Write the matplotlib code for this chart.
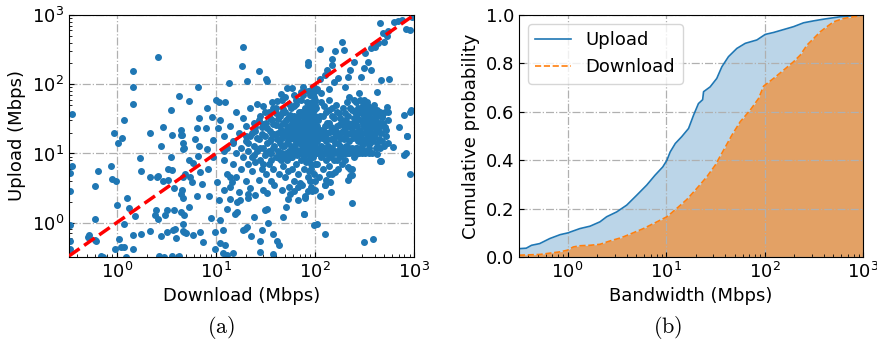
import matplotlib
matplotlib.use('Agg')
import numpy as np
import matplotlib.pyplot as plt

plt.rcParams['font.size'] = 13
plt.rcParams['mathtext.fontset'] = 'cm'

sparse_pts = [
    (0.35, 37), (0.35, 6.6), (0.34, 5.3), (0.34, 2.85), (0.34, 0.91), (0.34, 0.55), (0.34, 0.42),
    (0.94, 20), (1.03, 14.2), (1.14, 16.8), (1.19, 30), (1.45, 155), (1.47, 90), (1.45, 52),
    (2.6, 245), (4.2, 67), (6.6, 90), (5.3, 58), (3.5, 42), (6.8, 33), (8.1, 45), (10, 60),
    (10.8, 55), (12.4, 56), (13.7, 105), (18.7, 350), (18.3, 183), (20.8, 111), (27, 158),
    (32, 118), (32.5, 112),
    (0.64, 5.6), (0.6, 3.35), (0.6, 1.14), (0.52, 0.66), (0.52, 0.61), (0.6, 0.57), (0.88, 6.6),
    (0.9, 4.3), (0.98, 4.0), (1.0, 1.8), (1.26, 2.3), (1.32, 1.65), (1.54, 1.25), (1.19, 0.97),
    (1.72, 8.6), (1.75, 5.6), (2.17, 20), (2.17, 4.6), (2.5, 1.5), (2.6, 4.7), (2.55, 4.5),
    (2.8, 13), (2.9, 4.0), (2.95, 24), (3.1, 1.28), (3.2, 1.5), (3.3, 4.1), (3.3, 6.0),
    (3.5, 8.9), (3.6, 5.7), (3.6, 18.3), (3.8, 1.5), (3.8, 3.2), (4.5, 22), (4.5, 18.5),
    (4.6, 18.3), (4.7, 14.2), (4.8, 11.9), (4.6, 2.95), (4.7, 11.5), (4.7, 2.3), (4.8, 1.28),
    (4.5, 2.6), (4.7, 4.6), (4.9, 5.1), (4.5, 1.43), (5.3, 8.0), (5.4, 1.7), (5.5, 4.6),
    (5.7, 3.9), (5.95, 7.2), (6.2, 16.4), (6.4, 23.5), (6.4, 2.4), (6.6, 9.2), (6.7, 13),
    (7.0, 5.4), (7.3, 3.65), (8.0, 23.5), (8.2, 11.7), (8.4, 5.9), (8.6, 2.4), (8.9, 1.18),
    (9.1, 34), (9.4, 15.8), (9.4, 8.8), (2.45, 1.28), (2.6, 1.13),
]

low_pts = [
    (0.51, 0.63), (0.62, 0.54), (1.05, 0.59), (1.1, 0.44), (1.19, 0.44), (0.95, 0.41),
    (1.45, 0.67), (1.45, 0.41), (1.76, 0.69), (2.17, 0.77), (2.8, 0.65), (3.2, 0.73),
    (3.7, 0.79), (4.7, 0.77), (4.8, 0.73), (4.7, 0.95), (0.73, 0.32), (1.24, 0.32), (3.0, 0.32),
    (3.6, 0.33), (3.9, 0.8), (4.0, 0.6), (5.0, 0.72), (5.9, 0.66), (7.0, 0.73), (7.5, 0.52),
    (9.8, 0.73), (9.8, 0.42), (10.2, 3.85), (10.5, 23.5), (10.8, 2.1), (11, 1.08), (11, 0.5),
    (11.7, 0.79), (11.7, 0.36), (12, 2.95), (12.5, 0.48), (13, 1.6), (13.9, 2.2), (13.9, 4.6),
    (14.4, 3.9), (15, 0.36), (15.6, 1.35), (16.5, 1.43), (16.5, 2.0), (17.6, 2.1), (19, 0.79),
    (19.6, 0.82), (20.4, 0.86), (21, 2.3), (22.8, 0.65), (24, 1.2), (21, 2.6), (28, 0.55),
    (28, 0.38), (29, 0.79), (31.5, 1.5), (32.5, 1.6), (33.8, 1.0), (38, 0.69), (41, 0.55),
    (43, 0.48), (48, 1.2), (51, 1.7), (53, 2.2), (55, 3.3), (61, 2.9), (68, 2.1), (77, 1.35),
    (80, 2.4), (86, 2.9), (92, 3.3), (97, 0.92), (105, 0.95), (113, 2.4), (127, 0.69),
    (142, 3.9), (160, 5.4), (167, 8.0), (180, 11.5), (195, 11), (218, 6.4), (225, 4.8),
    (236, 1.9), (218, 4.1), (315, 0.52), (383, 0.59), (455, 7.8), (610, 12.4), (2.7, 0.33),
    (4.2, 0.33), (13, 0.34), (38, 0.35), (0.7, 0.33),
    (900, 5.0), (820, 10), (840, 17.7), (900, 40), (790, 36), (930, 42), (700, 24), (455, 12),
    (450, 15.6), (420, 42), (405, 38), (460, 115), (420, 78), (565, 121), (470, 34), (530, 47),
    (850, 17.8), (790, 9.4), (460, 7.7), (145, 2.8), (78, 1.35), (80, 2.25), (90, 2.95),
    (94, 2.9), (125, 3.5), (130, 4.1), (140, 5.1), (70, 3.7), (67, 3.3), (235, 6.0), (235, 4.9),
]

diag_pts = [
    (960, 950), (760, 860), (690, 830), (630, 800), (920, 610), (820, 620), (550, 590),
    (530, 490), (490, 545), (450, 770), (500, 410), (430, 390), (400, 350), (365, 330),
    (320, 280), (340, 210), (365, 160), (310, 170), (290, 128), (250, 210), (225, 162),
    (218, 128), (195, 310), (187, 410), (160, 300), (150, 235), (148, 190), (132, 160),
    (125, 135), (112, 120), (113, 320), (86, 210), (85, 190), (75, 90), (97, 90), (105, 84),
    (115, 75), (137, 85), (155, 108), (172, 125), (200, 90), (220, 66), (245, 60), (280, 75),
    (315, 60), (340, 48), (300, 38), (52, 87), (58, 87), (61, 70), (72, 78), (45, 72), (50, 65),
    (41, 58), (38, 45), (20, 18), (25, 24), (30, 27), (35, 33), (40, 38), (48, 44), (55, 52),
    (65, 60), (75, 70), (85, 80), (95, 92), (15, 14), (12, 11),
]

core_pts = [
    (11, 30), (12, 18), (12, 8), (13, 12), (13, 5), (14, 25), (14, 3.3), (15, 15), (15, 7),
    (16, 40), (16, 10), (16, 4.5), (17, 20), (17, 2.8), (18, 12), (18, 6), (19, 33), (19, 9),
    (20, 15), (20, 4), (20, 25), (21, 7), (21, 11), (22, 45), (22, 3.2), (22, 18), (23, 9),
    (23, 5.5), (24, 28), (24, 13), (25, 2.5), (25, 7.5), (25, 21), (26, 52), (26, 11), (27, 4.2),
    (27, 16), (28, 35), (28, 8), (29, 6), (29, 24), (30, 12), (30, 3), (30, 48), (31, 18),
    (31, 9.5), (32, 5), (32, 28), (33, 14), (33, 2.7), (34, 40), (34, 7), (35, 21), (35, 10),
    (36, 4), (36, 16), (37, 55), (37, 30), (38, 12), (38, 6), (39, 19), (39, 3.5), (40, 26),
    (40, 9), (40, 45),
    (42, 11), (42, 20), (43, 5), (44, 35), (44, 14), (45, 8), (45, 22), (46, 3), (46, 60),
    (47, 10), (47, 17), (48, 28), (48, 6.5), (49, 13), (50, 19), (50, 40), (50, 4.5), (51, 10),
    (52, 25), (52, 8), (53, 15), (54, 33), (54, 5.5), (55, 11), (55, 20), (56, 2.6), (57, 45),
    (57, 9), (58, 17), (58, 28), (59, 6), (60, 12), (60, 22), (61, 35), (62, 10), (62, 4),
    (63, 19), (64, 52), (64, 14), (65, 7), (66, 25), (66, 11), (67, 30), (68, 18), (68, 5),
    (69, 40), (70, 10), (70, 21), (71, 15), (72, 8), (72, 60), (73, 27), (74, 12), (74, 3.5),
    (75, 19), (76, 35), (76, 10), (77, 6), (78, 22), (78, 14), (79, 45), (80, 11), (80, 28),
    (81, 18), (82, 7.5), (82, 38), (83, 10), (84, 20), (84, 55), (85, 13), (85, 4.5), (86, 25),
    (86, 10), (87, 32), (88, 17), (88, 8), (89, 48), (89, 11), (90, 21), (90, 10), (90, 70),
    (91, 15), (91, 6), (92, 28), (92, 38), (93, 12), (93, 19), (94, 10), (94, 55), (95, 24),
    (95, 9), (96, 16), (96, 33), (97, 11), (97, 5), (98, 20), (98, 43), (99, 10), (99, 14),
    (100, 26), (100, 10), (100, 7), (100, 18), (100, 60), (100, 35),
    (102, 45), (104, 15), (106, 7), (108, 30), (110, 12), (110, 4.5), (112, 22), (115, 55),
    (115, 9), (118, 17), (120, 35), (120, 6), (123, 12), (125, 25), (125, 3.5), (128, 8),
    (130, 40), (130, 15), (133, 20), (135, 11), (138, 60), (138, 6.5), (140, 28), (142, 9),
    (145, 16), (147, 45), (148, 5), (150, 12), (152, 22), (155, 33), (157, 8), (160, 14),
    (162, 50), (165, 25), (168, 11), (170, 6), (172, 18), (175, 38), (178, 9), (180, 13),
    (183, 28), (186, 7), (190, 21), (192, 45), (195, 11), (198, 16), (200, 30), (200, 8),
    (205, 13), (210, 55), (212, 24), (215, 10), (218, 35), (222, 15), (226, 6), (230, 20),
    (235, 42), (238, 12), (242, 28), (245, 9),
    (252, 40), (255, 18), (258, 12), (262, 55), (265, 25), (268, 33), (270, 15), (275, 45),
    (278, 22), (282, 11), (285, 30), (288, 60), (292, 19), (295, 38), (298, 13), (302, 27),
    (305, 50), (308, 16), (312, 35), (315, 24), (318, 11), (322, 42), (325, 20), (330, 30),
    (335, 14), (338, 55), (342, 25), (346, 18), (350, 38), (355, 12), (360, 28), (365, 45),
    (370, 20), (375, 33), (380, 15), (385, 24), (390, 40), (398, 18), (405, 30), (412, 12),
    (420, 22), (430, 35), (440, 16), (450, 28), (465, 20), (480, 35), (495, 13), (510, 24),
    (525, 18), (540, 30), (550, 40),
]

core_extra = [
    (21, 14), (23, 20), (24, 9.5), (26, 17), (27, 30), (28, 12), (29, 19), (30, 7), (31, 40),
    (33, 23), (34, 11), (35, 15), (36, 8), (37, 19), (38, 27), (39, 13), (41, 16), (42, 31),
    (43, 8.5), (44, 25), (46, 13), (47, 38), (48, 21), (49, 9), (51, 30), (52, 14), (53, 23),
    (54, 17), (56, 36), (57, 13), (58, 24), (59, 9), (60, 30), (61, 16), (62, 48), (63, 12),
    (64, 25), (65, 17), (66, 9.5), (67, 21), (68, 34), (69, 14), (70, 28), (71, 11), (72, 18),
    (73, 40), (74, 16), (75, 24), (76, 13), (77, 30), (78, 9), (79, 17), (80, 36), (81, 22),
    (83, 15), (84, 28), (85, 19), (86, 45), (87, 12), (88, 24), (89, 16), (90, 32), (91, 40),
    (92, 14), (92, 9), (93, 25), (94, 18), (95, 50), (95, 13), (96, 22), (97, 30), (98, 12),
    (99, 25), (100, 15), (100, 45), (100, 80), (100, 50), (98, 65), (95, 75), (93, 85), (90, 4),
    (95, 3), (92, 7), (88, 5.5), (100, 4), (100, 3),
    (105, 25), (108, 18), (112, 35), (116, 13), (120, 22), (124, 48), (128, 17), (132, 28),
    (136, 13), (140, 42), (145, 24), (150, 35), (155, 17), (160, 22), (165, 40), (170, 14),
    (175, 26), (180, 33), (185, 17), (190, 12), (196, 25), (202, 38), (208, 18), (214, 28),
    (220, 12), (228, 45), (235, 24), (242, 17), (248, 32),
    (255, 28), (265, 12), (272, 38), (280, 17), (290, 45), (300, 14), (310, 28), (320, 40),
    (330, 16), (340, 35), (350, 22), (360, 14), (372, 28), (385, 17), (395, 50), (410, 25),
    (425, 14), (435, 28), (448, 40), (460, 25), (475, 15), (490, 28), (505, 40), (520, 22),
    (540, 14),
]

band_pts = [
    (32, 10), (36, 10), (44, 10.3), (48, 9.8), (53, 10.2), (58, 10), (63, 9.9), (69, 10.1),
    (75, 10), (81, 10.2), (87, 9.8), (105, 10), (112, 10.2), (120, 9.9), (128, 10), (135, 10.1),
    (145, 9.8), (155, 10), (165, 10.3), (175, 10), (190, 9.9), (205, 10.1), (220, 10),
    (240, 10.2), (260, 9.8), (280, 10), (300, 10.1), (320, 10), (350, 10.3), (380, 10),
    (420, 9.9),
    (45, 20), (52, 20.5), (60, 19.5), (67, 20), (74, 20.2), (82, 19.8), (95, 20), (108, 20.3),
    (118, 19.7), (130, 20), (142, 20.2), (158, 19.8), (172, 20), (188, 20.1), (205, 19.9),
    (225, 20), (250, 20.2), (275, 19.8), (300, 20), (330, 20.1), (360, 19.9), (400, 20),
    (440, 20.2),
]

# CDF curves
up_x = [0.32, 0.38, 0.43, 0.52, 0.66, 0.84, 1.0, 1.33, 1.69, 2.13, 2.49, 3.15, 3.98, 5.03,
        6.36, 7.73, 9.25, 10.2, 11.0, 12.4, 14.4, 16.9, 19.0, 21.3, 23.5, 24.0, 28.0, 32.7,
        36.8, 43.0, 52.3, 63.6, 83.5, 101.6, 123.5, 156, 197, 249, 315, 398, 588, 1000]
up_y = [0.034, 0.036, 0.048, 0.055, 0.076, 0.092, 0.099, 0.117, 0.127, 0.145, 0.166, 0.186,
        0.214, 0.255, 0.297, 0.338, 0.372, 0.40, 0.434, 0.469, 0.497, 0.531, 0.586, 0.634,
        0.65, 0.683, 0.703, 0.738, 0.786, 0.828, 0.862, 0.883, 0.897, 0.92, 0.928, 0.94,
        0.952, 0.968, 0.976, 0.983, 0.993, 1.0]
down_x = [0.32, 0.52, 0.84, 1.0, 1.14, 1.33, 1.69, 2.13, 2.7, 3.54, 4.48, 5.88, 7.73, 10.2,
          12.8, 16.2, 20.5, 25.9, 31.5, 38.3, 46.5, 56.6, 71.5, 86.9, 97.7, 123.5, 156, 197,
          230, 270, 315, 368, 430, 503, 635, 804, 1000]
down_y = [0.007, 0.01, 0.021, 0.028, 0.041, 0.046, 0.048, 0.052, 0.066, 0.08, 0.097, 0.117,
          0.141, 0.166, 0.2, 0.237, 0.283, 0.331, 0.379, 0.441, 0.503, 0.559, 0.607, 0.655,
          0.706, 0.738, 0.772, 0.807, 0.834, 0.876, 0.903, 0.931, 0.952, 0.972, 0.986, 0.993,
          1.0]

pts = sparse_pts + low_pts + diag_pts + core_pts + core_extra + band_pts
download = [p[0] for p in pts]
upload = [p[1] for p in pts]

fig = plt.figure(figsize=(8.78, 3.5), dpi=100)
ax1 = fig.add_axes([0.0786, 0.266, 0.393, 0.691])
ax2 = fig.add_axes([0.591, 0.266, 0.392, 0.691])

# (a) scatter
ax1.scatter(download, upload, s=16, color='#1f77b4', zorder=2)
ax1.plot([0.33, 1000], [0.33, 1000], 'r--', lw=2.5, zorder=3)
ax1.set_xscale('log')
ax1.set_yscale('log')
ax1.set_xlim(0.33, 1000)
ax1.set_ylim(0.32, 1000)
ax1.set_xlabel('Download (Mbps)')
ax1.set_ylabel('Upload (Mbps)')

# (b) CDF
ax2.fill_between(up_x, 0, up_y, color='#1f77b4', alpha=0.3, lw=0)
ax2.fill_between(down_x, 0, down_y, color='#ff7f0e', alpha=0.6, lw=0)
ax2.plot(up_x, up_y, '-', color='#1f77b4', lw=1.2, label='Upload')
ax2.plot(down_x, down_y, '--', color='#ff7f0e', lw=1.2, label='Download')
ax2.set_xscale('log')
ax2.set_xlim(0.32, 1000)
ax2.set_ylim(0, 1)
ax2.set_xlabel('Bandwidth (Mbps)')
ax2.set_ylabel('Cumulative probability')
ax2.legend(loc='upper left', fontsize=13)

for ax in (ax1, ax2):
    ax.grid(True, which='major', linestyle='-.', color='#b0b0b0', lw=0.9)
    ax.tick_params(which='both', direction='in')

fig.text(0.252, 0.063, r'$\mathrm{(a)}$', ha='center', va='center', fontsize=16)
fig.text(0.761, 0.063, r'$\mathrm{(b)}$', ha='center', va='center', fontsize=16)

plt.savefig('out.png', dpi=100)
